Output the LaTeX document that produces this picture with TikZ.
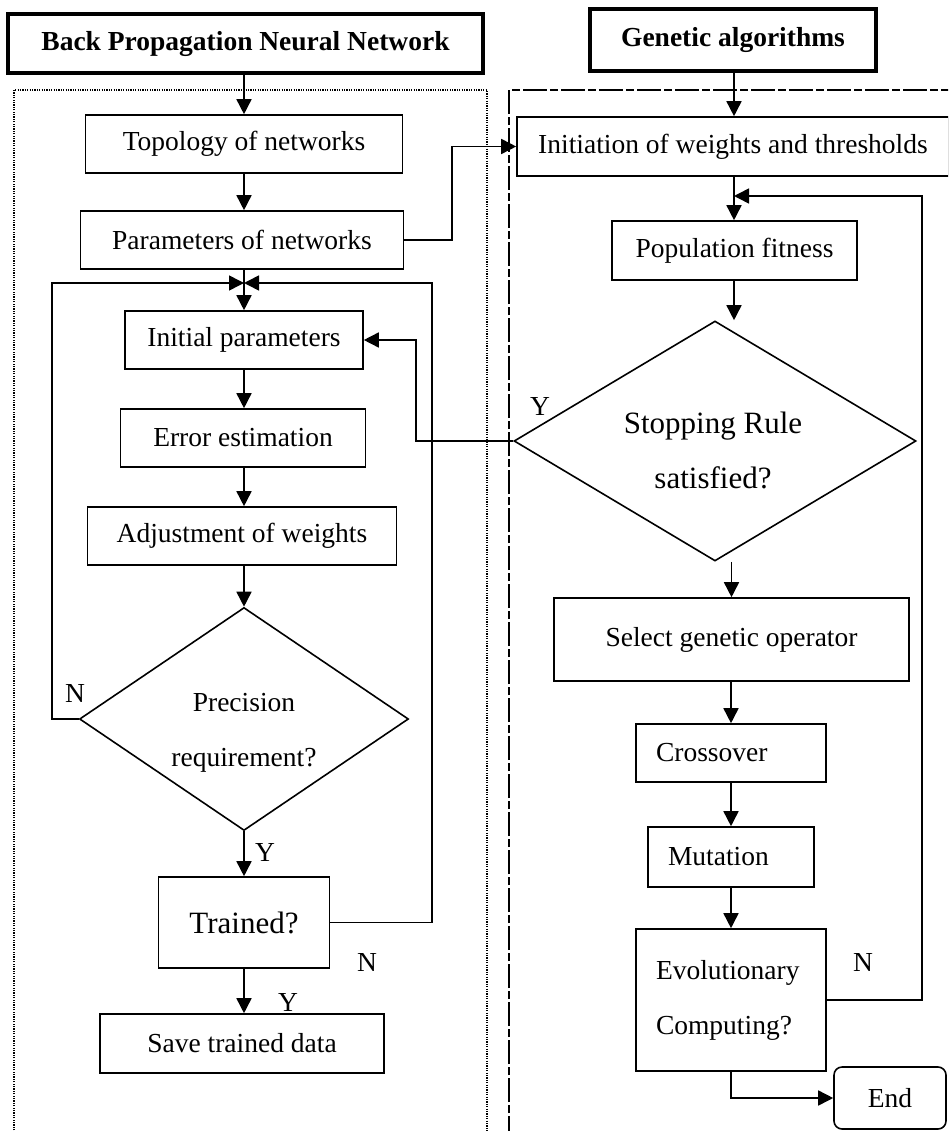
\documentclass[tikz,border=0pt]{standalone}
\usepackage{fontspec}
\setmainfont{Liberation Serif}
\usetikzlibrary{shapes.geometric,arrows.meta}
\newcommand{\bodyfont}{\fontsize{27.5}{55}\selectfont}
\newcommand{\bigfont}{\fontsize{31}{55}\selectfont}
\begin{document}
\begin{tikzpicture}[x=1pt,y=-1pt,
  box/.style={draw, line width=1.6pt, inner sep=0pt, font=\bodyfont, align=center},
  ttl/.style={draw, line width=3.6pt, inner sep=0pt, font=\bodyfont\bfseries},
  lbox/.style={draw, line width=1.6pt, inner xsep=20pt, inner ysep=0pt, font=\bodyfont, align=left},
  dia/.style={draw, diamond, line width=1.6pt, inner sep=0pt},
  arr/.style={-{Triangle[length=15pt,width=15pt]}, line width=1.6pt},
  lbl/.style={font=\bodyfont, inner sep=0pt},
  txt/.style={font=\bodyfont, inner sep=0pt, align=center}]
\useasboundingbox (0,0) rectangle (948,1131);
\begin{scope}
\clip (0,0) rectangle (948,1131);
% frames
\draw[line width=1.3pt, dash pattern=on 1.2pt off 1.2pt] (14,1140) -- (14,90) -- (487,90) -- (487,1140);
\draw[line width=1.6pt, dash pattern=on 24pt off 3pt on 8pt off 3pt] (509,1140) -- (509,90) -- (960,90);

% left column
\node[ttl, minimum width=475pt, minimum height=59pt] (t1) at (245.5,43.5) {Back Propagation Neural Network};
\node[box, minimum width=317pt, minimum height=58pt] (topo) at (244,144) {Topology of networks};
\node[box, minimum width=323pt, minimum height=58pt] (par) at (242,240) {Parameters of networks};
\node[box, minimum width=238pt, minimum height=58pt] (ini) at (244,340) {Initial parameters};
\node[box, minimum width=245pt, minimum height=58pt] (err) at (243,438) {Error estimation};
\node[box, minimum width=309pt, minimum height=58pt] (adj) at (242,536) {Adjustment of weights};
\node[dia, minimum width=329pt, minimum height=223pt] (prec) at (244,719) {};
\node[txt] (prectxt) at (244,733) {Precision\\requirement?};
\node[box, minimum width=171pt, minimum height=91pt, font=\bigfont] (trn) at (244,922.5) {Trained?};
\node[box, minimum width=284pt, minimum height=59pt] (save) at (242,1043.5) {Save trained data};

% right column
\node[ttl, minimum width=286pt, minimum height=62pt] (t2) at (733,40) {Genetic algorithms};
\node[box, minimum width=432pt, minimum height=59pt] (gai) at (733,146.5) {Initiation of weights and thresholds};
\node[box, minimum width=245pt, minimum height=59pt] (pop) at (734.5,250.5) {Population fitness};
\node[dia, minimum width=402pt, minimum height=240pt] (stop) at (715,441) {};
\node[txt, font=\bigfont] (stoptxt) at (713,450) {Stopping Rule\\satisfied?};
\node[box, minimum width=355pt, minimum height=83pt] (sel) at (731.5,639.5) {Select genetic operator};
\node[lbox, text width=150pt, minimum height=58pt] (cro) at (731,753) {Crossover};
\node[lbox, text width=126pt, minimum height=60pt] (mut) at (731,857) {Mutation};
\node[lbox, text width=150pt, minimum height=142pt] (evo) at (731,1000) {Evolutionary\\Computing?};
\node[box, rounded corners=8pt, minimum width=112pt, minimum height=62pt] (endn) at (890,1098) {End};

% coordinates
\coordinate (jn) at (244,283);
\coordinate (lloop) at (52,283);
\coordinate (rloop) at (432,283);
\coordinate (pbend) at (452,240);
\coordinate (ybend) at (416,441);
\coordinate (gj) at (734,196);
\coordinate (nloop) at (922,196);

% left connectors
\draw[arr] (t1.south -| topo.north) -- (topo.north);
\draw[arr] (topo.south) -- (topo.south |- par.north);
\draw[arr] (jn |- par.south) -- (ini.north);
\draw[arr] (prec.west) -| (lloop) -- (jn);
\draw[arr] (trn.east) -| (rloop) -- (jn);
\draw[arr] (ini.south) -- (ini.south |- err.north);
\draw[arr] (ini.south |- err.south) -- (ini.south |- adj.north);
\draw[arr] (adj.south -| prec.north) -- (prec.north);
\draw[arr] (prec.south) -- (trn.north);
\draw[arr] (trn.south) -- (trn.south |- save.north);

% cross connectors
\draw[arr] (par.east) -| (pbend |- gai.west) -- (gai.west);
\draw[arr] (stop.west) -| (ybend |- ini.east) -- (ini.east);

% right connectors
\draw[arr] (t2.south -| gj) -- (gj |- gai.north);
\draw[arr] (gj |- gai.south) -- (gj |- pop.north);
\draw[arr] (evo.east) -| (nloop) -- (gj);
\draw[arr] (pop.south -| gj) -- (gj |- stop.north);
\draw[arr] (sel.north |- stop.south) -- (sel.north);
\draw[arr] (sel.south -| cro.north) -- (cro.north);
\draw[arr] (cro.south) -- (mut.north);
\draw[arr] (mut.south) -- (evo.north);
\draw[arr] (evo.south) |- (endn.west);

% labels
\node[lbl] (ly1) at (540,406) {Y};
\node[lbl] (ln1) at (75,693) {N};
\node[lbl] (ly2) at (265,852) {Y};
\node[lbl] (ln2) at (367,962) {N};
\node[lbl] (ly3) at (288,1002) {Y};
\node[lbl] (ln3) at (863,962) {N};
\end{scope}
\end{tikzpicture}
\end{document}
